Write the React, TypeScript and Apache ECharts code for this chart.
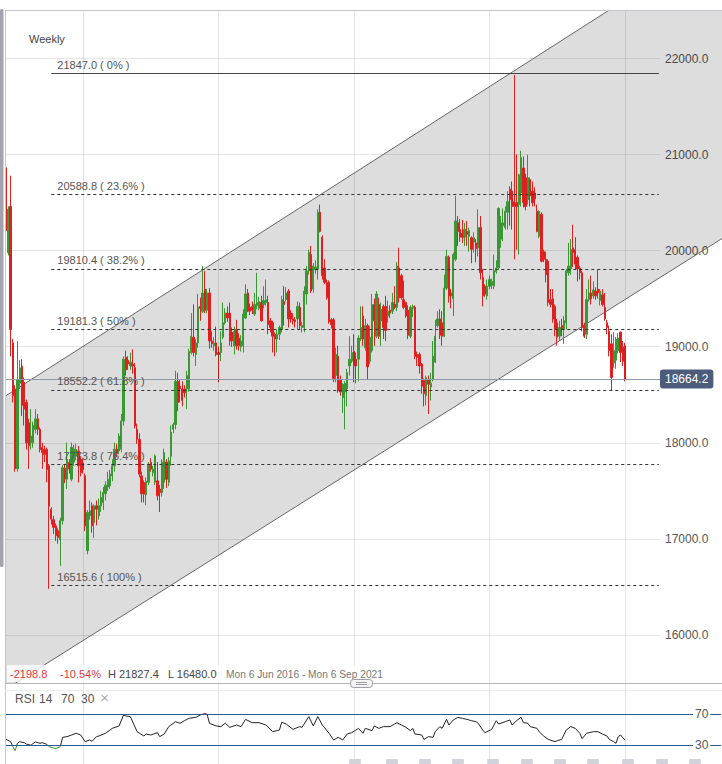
import React, { useEffect, useRef } from 'react';
import * as echarts from 'echarts';

// ---------- DATA (weekly candles, [open, close, low, high]) ----------
const candles2016: number[][] = [
  [20863, 20210, 20150, 20990], [19980, 20430, 19950, 20460], [20460, 19180, 18900, 20780], [19040, 18490, 18420, 19080],
  [18560, 17730, 17700, 18600], [17730, 18660, 17700, 19060], [18620, 18780, 18560, 18860], [18800, 18390, 18280, 18870],
  [18630, 18350, 18180, 18680], [18420, 18000, 17930, 18450], [18210, 17970, 17730, 18250], [18000, 18070, 17930, 18350],
  [18000, 18180, 17950, 18220], [18140, 18250, 18100, 18350], [18250, 18140, 18080, 18300], [18140, 17930, 17900, 18160],
  [17950, 17900, 17730, 18000], [17930, 17880, 17800, 17970], [17930, 17720, 17590, 17950], [17760, 17340, 16480, 17780],
  [17309, 17206, 17150, 17330], [17200, 17120, 17050, 17240], [17136, 17032, 16980, 17160], [17084, 17015, 16950, 17110],
  [16990, 17190, 16720, 17220], [17190, 17740, 17150, 17770], [17733, 17622, 17580, 17780], [17622, 17830, 17518, 18003],
  [17795, 17726, 17680, 17830], [17622, 17951, 17600, 18003], [17800, 17934, 17760, 17980], [17860, 17930, 17820, 17990],
  [17916, 17760, 17587, 17968], [17830, 17691, 17650, 17860], [17790, 17720, 17680, 17830], [17656, 17136, 17080, 17680],
  [16876, 17275, 16840, 17300], [17240, 17292, 17200, 17400], [17344, 17136, 17066, 17380], [17171, 17344, 17010, 17360],
  [17344, 17309, 17140, 17400], [17240, 17344, 17200, 17420], [17344, 17431, 17280, 17500], [17379, 17483, 17300, 17540],
  [17470, 17560, 17400, 17600], [17540, 17620, 17500, 17700], [17552, 17674, 17520, 17720], [17656, 17760, 17600, 17830],
  [17760, 17934, 17700, 18000], [17934, 17899, 17850, 17990], [17916, 18072, 17880, 18100], [17934, 18228, 17900, 18300],
  [18228, 18870, 18180, 18900], [18890, 18760, 18700, 18960], [18860, 18820, 18760, 18900], [18800, 18840, 18760, 18940],
  [18817, 18800, 18720, 18973], [18783, 18176, 18150, 18830], [18141, 18037, 17990, 18200], [18037, 17673, 17640, 18100],
  [17656, 17470, 17380, 17700], [17587, 17465, 17380, 17610], [17460, 17600, 17350, 17640], [17590, 17777, 17560, 17800],
  [17795, 17726, 17700, 17840], [17691, 17725, 17650, 17760], [17590, 17864, 17560, 17880], [17604, 17448, 17400, 17800],
  [17517, 17483, 17280, 17560], [17483, 17800, 17440, 17830],
];
const candles2018: number[][] = [
  [17590, 17900, 17520, 17940], [17800, 17620, 17530, 17830], [17590, 17810, 17550, 17850], [17860, 18110, 17760, 18180],
  [18140, 18190, 18100, 18210], [18190, 18640, 18140, 18750], [18640, 18420, 18330, 18730], [18590, 18560, 18420, 18660],
  [18560, 18440, 18380, 18640], [18560, 18520, 18470, 18600], [18560, 18700, 18350, 18750], [18560, 18950, 18530, 18980],
  [18940, 19110, 18920, 19350], [19100, 18940, 18900, 19440], [18920, 19040, 18800, 19080], [19040, 19410, 18990, 19550],
  [19420, 19400, 19270, 19510], [19370, 19560, 19350, 19840], [19600, 19380, 19350, 19790], [19380, 19560, 19350, 19600],
  [19560, 19060, 18980, 19610], [19060, 19030, 18990, 19160], [19010, 19040, 18960, 19100], [19040, 18920, 18900, 19210],
  [18940, 18920, 18630, 19000], [18940, 19040, 18850, 19160], [19100, 19250, 19080, 19460], [19250, 19350, 19230, 19400],
  [19350, 19300, 19260, 19420], [19350, 19060, 19010, 19460], [19150, 19060, 19000, 19200], [19010, 19160, 18920, 19210],
  [19180, 19010, 18970, 19280], [19090, 19010, 18960, 19140], [19000, 19060, 18950, 19120], [19010, 19340, 18940, 19390],
  [19300, 19550, 19290, 19650], [19560, 19370, 19360, 19600], [19410, 19370, 19330, 19450], [19420, 19380, 19340, 19470],
  [19340, 19440, 19320, 19560], [19430, 19460, 19390, 19770], [19400, 19470, 19380, 19520], [19460, 19270, 19260, 19530],
  [19440, 19480, 19400, 19630], [19460, 19490, 19430, 19700], [19460, 19230, 19130, 19530], [19270, 19200, 19150, 19300],
  [19250, 19110, 18940, 19270], [19130, 19080, 18900, 19150], [19080, 19130, 18940, 19180], [19130, 19200, 19070, 19220],
  [19180, 19490, 19150, 19530], [19470, 19440, 19220, 19630], [19490, 19560, 19470, 19620], [19580, 19290, 19200, 19600],
  [19350, 19290, 19250, 19380], [19290, 19270, 19230, 19350], [19280, 19260, 19200, 19310], [19290, 19420, 19180, 19470],
  [19410, 19220, 19180, 19460], [19200, 19220, 19150, 19260], [19200, 19580, 19150, 19630], [19550, 19790, 19440, 19840],
  [19790, 19980, 19750, 20010], [19960, 19580, 19560, 20050], [19600, 19840, 19560, 19870], [19800, 19830, 19760, 19900],
  [19810, 20400, 19700, 20430], [20400, 20200, 20190, 20480],
];
const candles2019: number[][] = [
  [20140, 19740, 19700, 20160], [19820, 19670, 19650, 19910], [19670, 19510, 19490, 19700], [19670, 19260, 19240, 19690],
  [19280, 19230, 19190, 19300], [19280, 18670, 18630, 19300], [18700, 18920, 18630, 18990], [18900, 18540, 18520, 19010],
  [18650, 18530, 18490, 18700], [18470, 18610, 18310, 18620], [18530, 18620, 18140, 18640], [18560, 18730, 18380, 18770],
  [18800, 18870, 18700, 19110], [18850, 18940, 18830, 19010], [18950, 18800, 18630, 19130], [18870, 18800, 18620, 18940],
  [18870, 19090, 18640, 19120], [19080, 19200, 19060, 19420], [19320, 19080, 19010, 19420], [18990, 19220, 18960, 19290],
  [19220, 18790, 18660, 19240], [18850, 19100, 18820, 19220], [18960, 19440, 18940, 19550], [19440, 19270, 19010, 19500],
  [19110, 19550, 19090, 19580], [19440, 19110, 19080, 19510], [19270, 19390, 19010, 19460], [19420, 19200, 19080, 19440],
  [19420, 19170, 19060, 19530], [19320, 19370, 19250, 19480], [19380, 19350, 19300, 19430], [19370, 19460, 19340, 19560],
  [19440, 19410, 19390, 19630], [19410, 19840, 19370, 19880], [19820, 19510, 19460, 20030], [19740, 19510, 19490, 19760],
  [19490, 19410, 19390, 19690], [19460, 19320, 19300, 19470], [19380, 19120, 19080, 19430], [19110, 19410, 19090, 19430],
  [19400, 19420, 19310, 19440], [19410, 18900, 18870, 19430], [18920, 18890, 18800, 18950], [18920, 18800, 18720, 18940],
  [18820, 18590, 18510, 18830], [18650, 18510, 18380, 18670], [18490, 18680, 18390, 18700], [18660, 18610, 18300, 18700],
  [18580, 18620, 18440, 18730], [18660, 18900, 18640, 19060], [18840, 19110, 18830, 19280], [19220, 19290, 19200, 19370],
  [19290, 19120, 19080, 19390], [19250, 19110, 19010, 19370], [19110, 19610, 19100, 19750], [19610, 19940, 19590, 20010],
  [19930, 19530, 19460, 19950], [19560, 19530, 19400, 19600], [19500, 19960, 19320, 19980], [19910, 20310, 19890, 20570],
  [20290, 20200, 20050, 20360], [20220, 20140, 20090, 20330], [20180, 20140, 20080, 20320], [20140, 20220, 20050, 20290],
  [20200, 20170, 20050, 20310], [20150, 20210, 19990, 20240], [20135, 20014, 19870, 20150], [20090, 20135, 19980, 20190],
  [20080, 20020, 19880, 20120], [20030, 20240, 19940, 20430],
];
const candles2020: number[][] = [
  [20240, 19770, 19700, 20360], [19720, 19530, 19420, 19810], [19630, 19550, 19520, 19650], [19530, 19630, 19490, 19700],
  [19630, 19700, 19600, 19740], [19640, 19680, 19600, 19710], [19630, 19790, 19600, 19960], [19780, 19820, 19760, 19900],
  [19820, 20440, 19800, 20450], [20120, 20290, 20030, 20360], [20260, 20290, 20100, 20440], [20240, 20410, 20220, 20460],
  [20400, 20510, 20220, 20620], [20640, 20530, 20260, 20670], [20620, 20460, 20220, 20720], [20510, 20460, 19910, 21827.4],
  [20500, 20460, 20010, 21000], [20480, 20790, 19960, 20800], [20600, 20970, 20460, 21040], [20860, 20500, 20450, 20980],
  [20760, 20460, 20420, 20800], [20530, 20760, 20480, 21000], [20740, 20570, 20460, 20760], [20620, 20500, 20460, 20720],
  [20600, 20540, 20460, 20660], [20410, 20200, 20190, 20480], [20150, 20410, 20130, 20420], [20380, 19890, 19880, 20400],
  [19990, 19910, 19880, 20010], [19910, 19750, 19670, 19990], [19890, 19460, 19420, 19910], [19490, 19440, 19410, 19600],
  [19500, 19290, 19250, 19600], [19420, 19180, 19110, 19440], [19250, 19100, 19010, 19290], [19110, 19200, 19060, 19270],
  [19220, 19180, 19110, 19290], [19180, 19270, 19030, 19320], [19250, 19790, 19180, 19810], [19770, 19840, 19740, 20080],
  [19810, 20010, 19750, 20120], [20030, 19980, 19830, 20270], [20010, 19860, 19800, 20140], [19930, 19810, 19680, 19950],
  [19820, 19770, 19700, 19840], [19770, 19200, 19160, 19790], [19220, 19110, 19090, 19250], [19130, 19490, 19080, 19600],
  [19490, 19560, 19470, 19700], [19560, 19500, 19440, 19740], [19530, 19590, 19500, 19680], [19580, 19530, 19490, 19620],
  [19600, 19560, 19500, 19800], [19480, 19580, 19430, 19600], [19540, 19440, 19420, 19600], [19410, 19290, 19270, 19560],
  [19250, 19200, 19130, 19280], [19160, 18960, 18900, 19220], [19030, 18680, 18540, 19130], [18830, 18960, 18780, 19150],
  [18860, 19080, 18770, 19100], [18960, 19090, 18930, 19140], [19150, 18940, 18840, 19160], [19000, 18850, 18800, 19060],
  [19010, 18664.2, 18640, 19040],
];

// Fibonacci retracement levels
const fibLevels = [21847.0, 20588.8, 19810.4, 19181.3, 18552.2, 17773.8, 16515.6];
const fibPercents = ['0%', '23.6%', '38.2%', '50%', '61.8%', '76.4%', '100%'];
const fibStartIndex = 20;
const fibEndIndex = 289;
const lastPrice = 18664.2;

// Trend channel: [candle index, value] at both ends
const channelUpper = [[0, 18492], [274, 22609]];
const channelLower = [[0, 15438], [274, 19491]];

// RSI(14) readings: [candle index, value]
const rsiPoints: number[][] = [
  [0, 37.7], [2, 34.7], [3, 28.3], [4, 23.1], [5, 32.6], [6, 34.7], [8, 33.4], [9, 31.7], [11, 30.0], [12, 32.6],
  [13, 34.3], [15, 32.6], [16, 33.4], [18, 31.3], [19, 28.3], [21, 26.6], [22, 25.7], [24, 28.3], [25, 40.3], [27, 41.2],
  [29, 43.3], [31, 45.5], [33, 43.3], [35, 34.7], [37, 36.9], [38, 35.2], [40, 41.2], [41, 42.0], [44, 45.5], [47, 51.9],
  [50, 55.0], [52, 69.1], [53, 67.9], [55, 67.0], [58, 47.6], [61, 42.0], [62, 44.6], [64, 43.3], [67, 46.4], [68, 41.2],
  [70, 44.6], [72, 54.1], [75, 60.5], [77, 58.4], [79, 61.8], [81, 64.8], [84, 66.1], [86, 69.1], [88, 71.3], [89, 70.0],
  [90, 58.4], [93, 55.0], [95, 54.1], [97, 58.4], [99, 53.2], [102, 56.2], [104, 54.1], [106, 63.5], [109, 59.2], [112, 59.2],
  [115, 56.2], [118, 47.6], [121, 49.8], [122, 59.7], [124, 57.5], [127, 50.6], [130, 54.1], [131, 53.2], [134, 67.0], [136, 55.0],
  [138, 67.0], [140, 56.2], [143, 45.5], [145, 36.9], [147, 40.3], [149, 36.9], [151, 44.6], [153, 46.3], [156, 51.9], [158, 45.5],
  [159, 51.9], [162, 48.9], [163, 55.0], [165, 51.9], [167, 54.1], [170, 54.1], [172, 57.5], [173, 59.2], [175, 56.2], [177, 53.2],
  [179, 48.9], [180, 51.9], [181, 44.6], [184, 43.3], [185, 37.7], [187, 41.2], [189, 40.3], [190, 47.6], [192, 54.1], [193, 51.9],
  [195, 63.5], [196, 56.2], [198, 62.7], [200, 66.1], [202, 64.8], [204, 63.5], [206, 61.8], [208, 60.5], [209, 58.4], [211, 49.8],
  [212, 46.3], [215, 50.6], [217, 61.8], [218, 57.5], [221, 60.5], [223, 62.7], [224, 56.2], [226, 61.8], [228, 66.1], [229, 59.2],
  [231, 58.4], [232, 54.1], [235, 51.9], [236, 47.6], [238, 42.0], [240, 37.7], [243, 34.7], [244, 36.0], [246, 37.7], [248, 49.8],
  [250, 54.1], [252, 51.9], [254, 45.5], [255, 38.6], [257, 45.5], [260, 47.6], [262, 47.6], [264, 44.6], [266, 42.0], [267, 37.7],
  [269, 34.7], [270, 32.6], [271, 41.2], [272, 43.3], [274, 36.9],
];
const rsiBands = [70, 30];

// Candle indices where the vertical grid lines fall
const gridLineIndex = [34, 94, 154, 214, 274];

// Header / footer texts
const infoChange = '-2198.8';
const infoPercent = '-10.54%';
const infoHigh = 'H 21827.4';
const infoLow = 'L 16480.0';
const infoRange = 'Mon 6 Jun 2016 - Mon 6 Sep 2021';
const rsiTitle = ['RSI', '14', '70', '30'];
const dateStubX = [355, 392, 425, 458, 493, 527, 560, 593, 628, 662, 695];

// ---------- STYLE ----------
const FONT = '"Liberation Sans", Arial, Helvetica, sans-serif';
const GREEN = '#3a9733';
const RED = '#de2020';
const PANE_LEFT = 5;
const PANE_RIGHT = 722;
const MAIN_CATS = 290;
const RSI_CATS = 317;
const TOP_Z = 100;

const candles = [...candles2016, ...candles2018, ...candles2019, ...candles2020];
const mainCats = Array.from({ length: MAIN_CATS }, (_, i) => 'w' + i);
const rsiCats = Array.from({ length: RSI_CATS }, (_, i) => 'w' + i);

function clipHalf(pts: number[][], keep: (p: number[]) => boolean, yEdge: number) {
  const out: number[][] = [];
  for (let k = 0; k < pts.length; k++) {
    const a = pts[k];
    const b = pts[(k + 1) % pts.length];
    const ain = keep(a);
    const bin = keep(b);
    if (ain) out.push(a);
    if (ain !== bin) {
      const t = (yEdge - a[1]) / (b[1] - a[1]);
      out.push([a[0] + t * (b[0] - a[0]), yEdge]);
    }
  }
  return out;
}

function renderChannel(params: any, api: any) {
  const cs = params.coordSys;
  const top = cs.y;
  const bottom = cs.y + cs.height;
  const u0 = api.coord(channelUpper[0]);
  const u1 = api.coord(channelUpper[1]);
  const l0 = api.coord(channelLower[0]);
  const l1 = api.coord(channelLower[1]);
  const yAt = (a: number[], b: number[], x: number) => a[1] + ((b[1] - a[1]) * (x - a[0])) / (b[0] - a[0]);
  let poly = [
    [PANE_LEFT, yAt(u0, u1, PANE_LEFT)],
    [PANE_RIGHT, yAt(u0, u1, PANE_RIGHT)],
    [PANE_RIGHT, yAt(l0, l1, PANE_RIGHT)],
    [PANE_LEFT, yAt(l0, l1, PANE_LEFT)],
  ];
  poly = clipHalf(poly, (p) => p[1] >= top, top);
  poly = clipHalf(poly, (p) => p[1] <= bottom, bottom);
  const seg = (a: number[], b: number[]) => {
    const x1 = PANE_LEFT;
    const x2 = PANE_RIGHT;
    const y1 = yAt(a, b, x1);
    const y2 = yAt(a, b, x2);
    const tt = (top - y1) / (y2 - y1);
    const tb = (bottom - y1) / (y2 - y1);
    const tmin = Math.max(0, Math.min(tt, tb));
    const tmax = Math.min(1, Math.max(tt, tb));
    return {
      x1: x1 + tmin * (x2 - x1),
      y1: y1 + tmin * (y2 - y1),
      x2: x1 + tmax * (x2 - x1),
      y2: y1 + tmax * (y2 - y1),
    };
  };
  return {
    type: 'group',
    children: [
      { type: 'polygon', shape: { points: poly }, style: { fill: 'rgba(0,0,0,0.135)' } },
      { type: 'line', shape: seg(u0, u1), style: { stroke: '#666', lineWidth: 1 } },
      { type: 'line', shape: seg(l0, l1), style: { stroke: '#666', lineWidth: 1 } },
    ],
  };
}

function txt(text: string, x: number, y: number, size: number, color: string) {
  return {
    type: 'text',
    x,
    y,
    z: TOP_Z + 1,
    silent: true,
    style: { text, fill: color, font: `${size}px ${FONT}`, textVerticalAlign: 'middle' },
  };
}

const rsiTitleX = [15, 39, 61, 81];

const option: any = {
  animation: false,
  backgroundColor: '#ffffff',
  textStyle: { fontFamily: FONT },
  grid: [
    { left: PANE_LEFT, right: 62, top: 10, height: 673 },
    { left: PANE_LEFT, right: 1, top: 683, height: 81 },
  ],
  xAxis: [
    { type: 'category', gridIndex: 0, data: mainCats, boundaryGap: true, show: false },
    { type: 'category', gridIndex: 1, data: rsiCats, boundaryGap: true, show: false },
  ],
  yAxis: [
    {
      type: 'value',
      gridIndex: 0,
      position: 'right',
      min: 15500,
      max: 22505,
      splitNumber: 7,
      axisLine: { show: false },
      axisTick: { show: false },
      axisLabel: {
        color: '#555',
        fontSize: 12,
        margin: 5,
        showMinLabel: false,
        showMaxLabel: false,
        formatter: (v: number) => v.toFixed(1),
      },
      splitLine: { lineStyle: { color: '#e6e6e6', width: 1 } },
    },
    { type: 'value', gridIndex: 1, min: 5.9, max: 110.4, show: false },
  ],
  visualMap: {
    type: 'piecewise',
    show: false,
    seriesIndex: 5,
    dimension: 1,
    pieces: [
      { lt: 30, color: GREEN },
      { gte: 30, lte: 70, color: '#222' },
      { gt: 70, color: RED },
    ],
  },
  series: [
    {
      type: 'custom',
      xAxisIndex: 0,
      yAxisIndex: 0,
      data: [[0, 18000]],
      renderItem: renderChannel,
      clip: false,
      silent: true,
      z: 1,
    },
    {
      type: 'line',
      xAxisIndex: 0,
      yAxisIndex: 0,
      data: [],
      silent: true,
      z: 2,
      markLine: {
        silent: true,
        symbol: ['none', 'none'],
        animation: false,
        label: { show: false },
        lineStyle: { color: 'rgba(0,0,0,0.1)', type: 'solid', width: 1 },
        data: gridLineIndex.map((k) => ({ xAxis: k })),
      },
    },
    {
      type: 'line',
      xAxisIndex: 0,
      yAxisIndex: 0,
      data: [],
      silent: true,
      z: 2,
      markLine: {
        silent: true,
        symbol: ['none', 'none'],
        animation: false,
        data: [
          ...fibLevels.map((v, k) => [
            {
              coord: [fibStartIndex, v],
              lineStyle: { type: k === 0 ? 'solid' : [3, 3], color: k === 0 ? '#444' : '#333', width: 1 },
              label: {
                show: true,
                position: 'insideStartTop',
                formatter: `${v.toFixed(1)} ( ${fibPercents[k]} )`,
                color: '#555',
                fontSize: 11,
                distance: [6, 3],
              },
            },
            { coord: [fibEndIndex, v] },
          ]),
          {
            yAxis: lastPrice,
            lineStyle: { color: '#8e98a6', type: 'solid', width: 1 },
            label: {
              show: true,
              position: 'end',
              formatter: lastPrice.toFixed(1),
              color: '#ffffff',
              backgroundColor: '#4c5c7a',
              padding: [4, 5, 3, 5],
              borderRadius: 3,
              fontSize: 12,
              distance: 0,
            },
          },
        ],
      },
    },
    {
      type: 'candlestick',
      xAxisIndex: 0,
      yAxisIndex: 0,
      data: candles,
      barWidth: 1.8,
      silent: true,
      z: 3,
      itemStyle: { color: GREEN, color0: RED, borderColor: GREEN, borderColor0: RED, borderWidth: 1 },
    },
    {
      type: 'line',
      xAxisIndex: 1,
      yAxisIndex: 1,
      data: [],
      silent: true,
      z: 2,
      markLine: {
        silent: true,
        symbol: ['none', 'none'],
        animation: false,
        data: [
          ...gridLineIndex.map((k) => ({
            xAxis: k,
            lineStyle: { color: 'rgba(0,0,0,0.1)', type: 'solid', width: 1 },
            label: { show: false },
          })),
          ...rsiBands.map((b) => ({
            yAxis: b,
            lineStyle: { color: '#265b8d', type: 'solid', width: 1.2 },
            label: {
              show: true,
              position: 'end',
              formatter: String(b),
              color: '#555',
              fontSize: 12,
              backgroundColor: '#ffffff',
              padding: [0, 2],
              distance: -28,
            },
          })),
        ],
      },
    },
    {
      type: 'line',
      xAxisIndex: 1,
      yAxisIndex: 1,
      data: rsiPoints,
      showSymbol: false,
      symbol: 'none',
      silent: true,
      z: 3,
      lineStyle: { width: 1 },
    },
  ],
  graphic: [
    // pane frame
    { type: 'line', z: TOP_Z, silent: true, shape: { x1: PANE_LEFT, y1: 10.5, x2: PANE_RIGHT, y2: 10.5 }, style: { stroke: '#c4c4cb', lineWidth: 1 } },
    { type: 'line', z: TOP_Z, silent: true, shape: { x1: 5.5, y1: 10, x2: 5.5, y2: 764 }, style: { stroke: '#c4c4cb', lineWidth: 1 } },
    { type: 'line', z: TOP_Z, silent: true, shape: { x1: PANE_LEFT, y1: 683.5, x2: PANE_RIGHT, y2: 683.5 }, style: { stroke: '#b4b4bc', lineWidth: 1 } },
    { type: 'line', z: TOP_Z, silent: true, shape: { x1: PANE_LEFT, y1: 690.5, x2: PANE_RIGHT, y2: 690.5 }, style: { stroke: '#ececec', lineWidth: 1 } },
    // scrollbar
    { type: 'rect', z: TOP_Z, silent: true, shape: { x: 0, y: 9, width: 3.5, height: 558, r: 1.5 }, style: { fill: '#a2a3ae' } },
    // title
    txt('Weekly', 29, 39, 11, '#444'),
    // info row
    { type: 'rect', z: TOP_Z, silent: true, shape: { x: 7, y: 665, width: 378, height: 17 }, style: { fill: 'rgba(255,255,255,0.75)' } },
    txt(infoChange, 10, 674, 11, '#e0393e'),
    txt(infoPercent, 60, 674, 11, '#e0393e'),
    txt(infoHigh, 108, 674, 11, '#444'),
    txt(infoLow, 168, 674, 11, '#444'),
    txt(infoRange, 226, 674, 10.2, '#777'),
    // pane resize handle
    { type: 'rect', z: TOP_Z + 2, silent: true, shape: { x: 350.5, y: 679.5, width: 22, height: 8, r: 3 }, style: { fill: '#f3f3f5', stroke: '#9c9ca6', lineWidth: 1 } },
    { type: 'line', z: TOP_Z + 3, silent: true, shape: { x1: 356, y1: 682.5, x2: 367, y2: 682.5 }, style: { stroke: '#9c9ca6', lineWidth: 1 } },
    { type: 'line', z: TOP_Z + 3, silent: true, shape: { x1: 356, y1: 684.5, x2: 367, y2: 684.5 }, style: { stroke: '#9c9ca6', lineWidth: 1 } },
    // RSI header
    ...rsiTitle.map((t, k) => txt(t, rsiTitleX[k], 699, 12, '#555')),
    txt('✕', 100, 698, 11, '#aaa'),
    // date axis stubs
    ...dateStubX.map((x) => ({
      type: 'rect',
      z: TOP_Z,
      silent: true,
      shape: { x: x - 6, y: 759, width: 12, height: 5, r: 1 },
      style: { fill: '#d2d3da' },
    })),
  ],
};

export default function App() {
  const ref = useRef<HTMLDivElement>(null);
  useEffect(() => {
    document.body.style.margin = '0';
    const chart = echarts.init(ref.current as HTMLDivElement, undefined, { renderer: 'svg' });
    chart.setOption(option);
    return () => chart.dispose();
  }, []);
  return <div ref={ref} style={{ position: 'fixed', left: 0, top: 0, width: 722, height: 764 }} />;
}
